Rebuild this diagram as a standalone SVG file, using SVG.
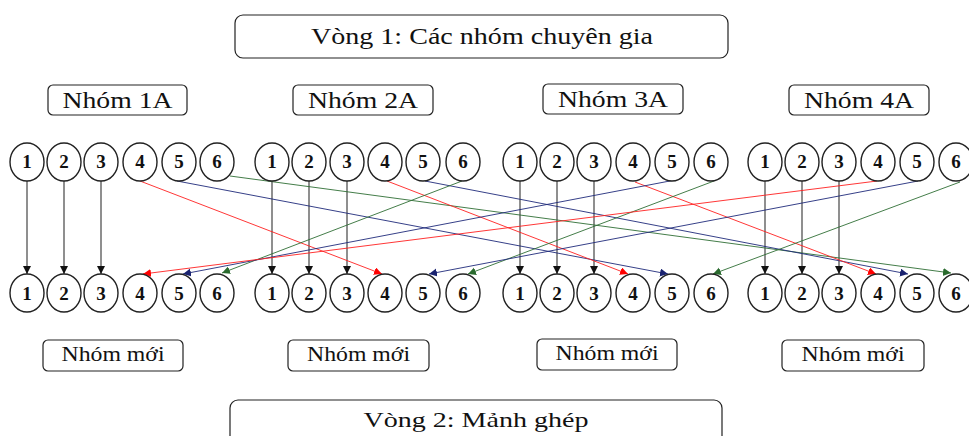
<svg xmlns="http://www.w3.org/2000/svg" width="969" height="436" viewBox="0 0 969 436">
<style>
.box{fill:#fff;stroke:#222;stroke-width:1.2}
.lbl{font-family:"Liberation Serif","Times New Roman",serif;fill:#111;text-anchor:middle}
.c{fill:#fff;stroke:#222;stroke-width:1.4}
.d{font-family:"Liberation Serif","Times New Roman",serif;font-weight:bold;font-size:19px;fill:#111;text-anchor:middle}
.k{stroke:#333;stroke-width:1.1;fill:none;marker-end:url(#ak)}
.r{stroke:#ff2020;stroke-width:0.9;fill:none;marker-end:url(#ar)}
.b{stroke:#1f2a7a;stroke-width:0.9;fill:none;marker-end:url(#ab)}
.g{stroke:#2f6e34;stroke-width:0.9;fill:none;marker-end:url(#ag)}
</style>
<defs>
<marker id="ak" markerUnits="userSpaceOnUse" markerWidth="9" markerHeight="9" refX="8" refY="4" orient="auto"><path d="M0,0 L8,4 L0,8 z" fill="#111"/></marker>
<marker id="ar" markerUnits="userSpaceOnUse" markerWidth="9" markerHeight="9" refX="8" refY="4" orient="auto"><path d="M0,0 L8,4 L0,8 z" fill="#ff0000"/></marker>
<marker id="ab" markerUnits="userSpaceOnUse" markerWidth="9" markerHeight="9" refX="8" refY="4" orient="auto"><path d="M0,0 L8,4 L0,8 z" fill="#1a2370"/></marker>
<marker id="ag" markerUnits="userSpaceOnUse" markerWidth="9" markerHeight="9" refX="8" refY="4" orient="auto"><path d="M0,0 L8,4 L0,8 z" fill="#2a6a2e"/></marker>
</defs>
<rect width="969" height="436" fill="#fff"/>

<g id="vong1"><rect class="box" x="235" y="15" width="493" height="43" rx="8"/><text class="lbl" x="482" y="44" font-size="23" textLength="342" lengthAdjust="spacingAndGlyphs">Vòng 1: Các nhóm chuyên gia</text></g>
<g id="nhom1A"><rect class="box" x="48" y="85" width="139" height="30" rx="5"/><text class="lbl" x="117.5" y="108" font-size="23" textLength="110" lengthAdjust="spacingAndGlyphs">Nhóm 1A</text></g>
<g id="nhom2A"><rect class="box" x="293" y="85" width="140" height="30" rx="5"/><text class="lbl" x="363" y="108" font-size="23" textLength="110" lengthAdjust="spacingAndGlyphs">Nhóm 2A</text></g>
<g id="nhom3A"><rect class="box" x="543" y="84" width="140" height="30" rx="5"/><text class="lbl" x="613" y="107" font-size="23" textLength="110" lengthAdjust="spacingAndGlyphs">Nhóm 3A</text></g>
<g id="nhom4A"><rect class="box" x="789" y="85" width="140" height="30" rx="5"/><text class="lbl" x="859" y="108" font-size="23" textLength="110" lengthAdjust="spacingAndGlyphs">Nhóm 4A</text></g>

<g id="moi1"><rect class="box" x="43" y="340" width="140" height="31" rx="5"/><text class="lbl" x="113" y="361" font-size="22" textLength="103" lengthAdjust="spacingAndGlyphs">Nhóm mới</text></g>
<g id="moi2"><rect class="box" x="288" y="340" width="141" height="31" rx="5"/><text class="lbl" x="358.5" y="361" font-size="22" textLength="103" lengthAdjust="spacingAndGlyphs">Nhóm mới</text></g>
<g id="moi3"><rect class="box" x="537" y="339" width="140" height="31" rx="5"/><text class="lbl" x="607" y="360" font-size="22" textLength="103" lengthAdjust="spacingAndGlyphs">Nhóm mới</text></g>
<g id="moi4"><rect class="box" x="782" y="340" width="142" height="31" rx="5"/><text class="lbl" x="853" y="361" font-size="22" textLength="103" lengthAdjust="spacingAndGlyphs">Nhóm mới</text></g>

<g id="vong2"><rect class="box" x="230" y="400" width="492" height="60" rx="8"/><text class="lbl" x="476" y="427" font-size="22" textLength="225" lengthAdjust="spacingAndGlyphs">Vòng 2: Mảnh ghép</text></g>

<g id="connectors">
<line class="k" x1="27" y1="181" x2="27" y2="274"/>
<line class="k" x1="64" y1="181" x2="64" y2="274"/>
<line class="k" x1="101" y1="181" x2="101" y2="274"/>
<line class="k" x1="272" y1="181" x2="272" y2="274"/>
<line class="k" x1="309" y1="181" x2="309" y2="274"/>
<line class="k" x1="347" y1="181" x2="347" y2="274"/>
<line class="k" x1="520" y1="181" x2="520" y2="274"/>
<line class="k" x1="557" y1="181" x2="557" y2="274"/>
<line class="k" x1="594" y1="181" x2="594" y2="274"/>
<line class="k" x1="765" y1="181" x2="765" y2="274"/>
<line class="k" x1="802" y1="181" x2="802" y2="274"/>
<line class="k" x1="839" y1="181" x2="839" y2="274"/>

<line class="r" x1="140" y1="181" x2="382" y2="274"/>
<line class="b" x1="177" y1="181" x2="668" y2="274"/>
<line class="g" x1="230" y1="176" x2="951" y2="273"/>

<line class="r" x1="387" y1="181" x2="628" y2="274"/>
<line class="b" x1="425" y1="181" x2="908" y2="274"/>
<line class="g" x1="462" y1="181" x2="222" y2="273"/>

<line class="r" x1="635" y1="182" x2="876" y2="274"/>
<line class="b" x1="675" y1="180" x2="183" y2="274"/>
<line class="g" x1="714" y1="181" x2="468" y2="274"/>

<line class="r" x1="877" y1="181" x2="143" y2="274"/>
<line class="b" x1="918" y1="181" x2="429" y2="274"/>
<line class="g" x1="960" y1="182" x2="713" y2="274"/>
</g>

<g id="t1-1"><ellipse class="c" cx="27" cy="162" rx="17" ry="19"/><text class="d" x="27" y="168">1</text></g>
<g id="t1-2"><ellipse class="c" cx="64" cy="162" rx="17" ry="19"/><text class="d" x="64" y="168">2</text></g>
<g id="t1-3"><ellipse class="c" cx="101" cy="162" rx="17" ry="19"/><text class="d" x="101" y="168">3</text></g>
<g id="t1-4"><ellipse class="c" cx="140" cy="162" rx="17" ry="19"/><text class="d" x="140" y="168">4</text></g>
<g id="t1-5"><ellipse class="c" cx="179" cy="162" rx="17" ry="19"/><text class="d" x="179" y="168">5</text></g>
<g id="t1-6"><ellipse class="c" cx="217" cy="162" rx="17" ry="19"/><text class="d" x="217" y="168">6</text></g>
<g id="t2-1"><ellipse class="c" cx="272" cy="162" rx="17" ry="19"/><text class="d" x="272" y="168">1</text></g>
<g id="t2-2"><ellipse class="c" cx="309" cy="162" rx="17" ry="19"/><text class="d" x="309" y="168">2</text></g>
<g id="t2-3"><ellipse class="c" cx="347" cy="162" rx="17" ry="19"/><text class="d" x="347" y="168">3</text></g>
<g id="t2-4"><ellipse class="c" cx="385" cy="162" rx="17" ry="19"/><text class="d" x="385" y="168">4</text></g>
<g id="t2-5"><ellipse class="c" cx="423" cy="162" rx="17" ry="19"/><text class="d" x="423" y="168">5</text></g>
<g id="t2-6"><ellipse class="c" cx="463" cy="162" rx="17" ry="19"/><text class="d" x="463" y="168">6</text></g>
<g id="t3-1"><ellipse class="c" cx="520" cy="162" rx="17" ry="19"/><text class="d" x="520" y="168">1</text></g>
<g id="t3-2"><ellipse class="c" cx="557" cy="162" rx="17" ry="19"/><text class="d" x="557" y="168">2</text></g>
<g id="t3-3"><ellipse class="c" cx="594" cy="162" rx="17" ry="19"/><text class="d" x="594" y="168">3</text></g>
<g id="t3-4"><ellipse class="c" cx="633" cy="162" rx="17" ry="19"/><text class="d" x="633" y="168">4</text></g>
<g id="t3-5"><ellipse class="c" cx="672" cy="162" rx="17" ry="19"/><text class="d" x="672" y="168">5</text></g>
<g id="t3-6"><ellipse class="c" cx="711" cy="162" rx="17" ry="19"/><text class="d" x="711" y="168">6</text></g>
<g id="t4-1"><ellipse class="c" cx="765" cy="162" rx="17" ry="19"/><text class="d" x="765" y="168">1</text></g>
<g id="t4-2"><ellipse class="c" cx="802" cy="162" rx="17" ry="19"/><text class="d" x="802" y="168">2</text></g>
<g id="t4-3"><ellipse class="c" cx="839" cy="162" rx="17" ry="19"/><text class="d" x="839" y="168">3</text></g>
<g id="t4-4"><ellipse class="c" cx="878" cy="162" rx="17" ry="19"/><text class="d" x="878" y="168">4</text></g>
<g id="t4-5"><ellipse class="c" cx="917" cy="162" rx="17" ry="19"/><text class="d" x="917" y="168">5</text></g>
<g id="t4-6"><ellipse class="c" cx="956" cy="162" rx="17" ry="19"/><text class="d" x="956" y="168">6</text></g>

<g id="b1-1"><ellipse class="c" cx="27" cy="293" rx="17" ry="19"/><text class="d" x="27" y="300">1</text></g>
<g id="b1-2"><ellipse class="c" cx="64" cy="293" rx="17" ry="19"/><text class="d" x="64" y="300">2</text></g>
<g id="b1-3"><ellipse class="c" cx="101" cy="293" rx="17" ry="19"/><text class="d" x="101" y="300">3</text></g>
<g id="b1-4"><ellipse class="c" cx="140" cy="293" rx="17" ry="19"/><text class="d" x="140" y="300">4</text></g>
<g id="b1-5"><ellipse class="c" cx="179" cy="293" rx="17" ry="19"/><text class="d" x="179" y="300">5</text></g>
<g id="b1-6"><ellipse class="c" cx="217" cy="293" rx="17" ry="19"/><text class="d" x="217" y="300">6</text></g>
<g id="b2-1"><ellipse class="c" cx="272" cy="293" rx="17" ry="19"/><text class="d" x="272" y="300">1</text></g>
<g id="b2-2"><ellipse class="c" cx="309" cy="293" rx="17" ry="19"/><text class="d" x="309" y="300">2</text></g>
<g id="b2-3"><ellipse class="c" cx="347" cy="293" rx="17" ry="19"/><text class="d" x="347" y="300">3</text></g>
<g id="b2-4"><ellipse class="c" cx="385" cy="293" rx="17" ry="19"/><text class="d" x="385" y="300">4</text></g>
<g id="b2-5"><ellipse class="c" cx="423" cy="293" rx="17" ry="19"/><text class="d" x="423" y="300">5</text></g>
<g id="b2-6"><ellipse class="c" cx="463" cy="293" rx="17" ry="19"/><text class="d" x="463" y="300">6</text></g>
<g id="b3-1"><ellipse class="c" cx="520" cy="293" rx="17" ry="19"/><text class="d" x="520" y="300">1</text></g>
<g id="b3-2"><ellipse class="c" cx="557" cy="293" rx="17" ry="19"/><text class="d" x="557" y="300">2</text></g>
<g id="b3-3"><ellipse class="c" cx="594" cy="293" rx="17" ry="19"/><text class="d" x="594" y="300">3</text></g>
<g id="b3-4"><ellipse class="c" cx="633" cy="293" rx="17" ry="19"/><text class="d" x="633" y="300">4</text></g>
<g id="b3-5"><ellipse class="c" cx="672" cy="293" rx="17" ry="19"/><text class="d" x="672" y="300">5</text></g>
<g id="b3-6"><ellipse class="c" cx="711" cy="293" rx="17" ry="19"/><text class="d" x="711" y="300">6</text></g>
<g id="b4-1"><ellipse class="c" cx="765" cy="293" rx="17" ry="19"/><text class="d" x="765" y="300">1</text></g>
<g id="b4-2"><ellipse class="c" cx="802" cy="293" rx="17" ry="19"/><text class="d" x="802" y="300">2</text></g>
<g id="b4-3"><ellipse class="c" cx="839" cy="293" rx="17" ry="19"/><text class="d" x="839" y="300">3</text></g>
<g id="b4-4"><ellipse class="c" cx="878" cy="293" rx="17" ry="19"/><text class="d" x="878" y="300">4</text></g>
<g id="b4-5"><ellipse class="c" cx="917" cy="293" rx="17" ry="19"/><text class="d" x="917" y="300">5</text></g>
<g id="b4-6"><ellipse class="c" cx="956" cy="293" rx="17" ry="19"/><text class="d" x="956" y="300">6</text></g>
</svg>
